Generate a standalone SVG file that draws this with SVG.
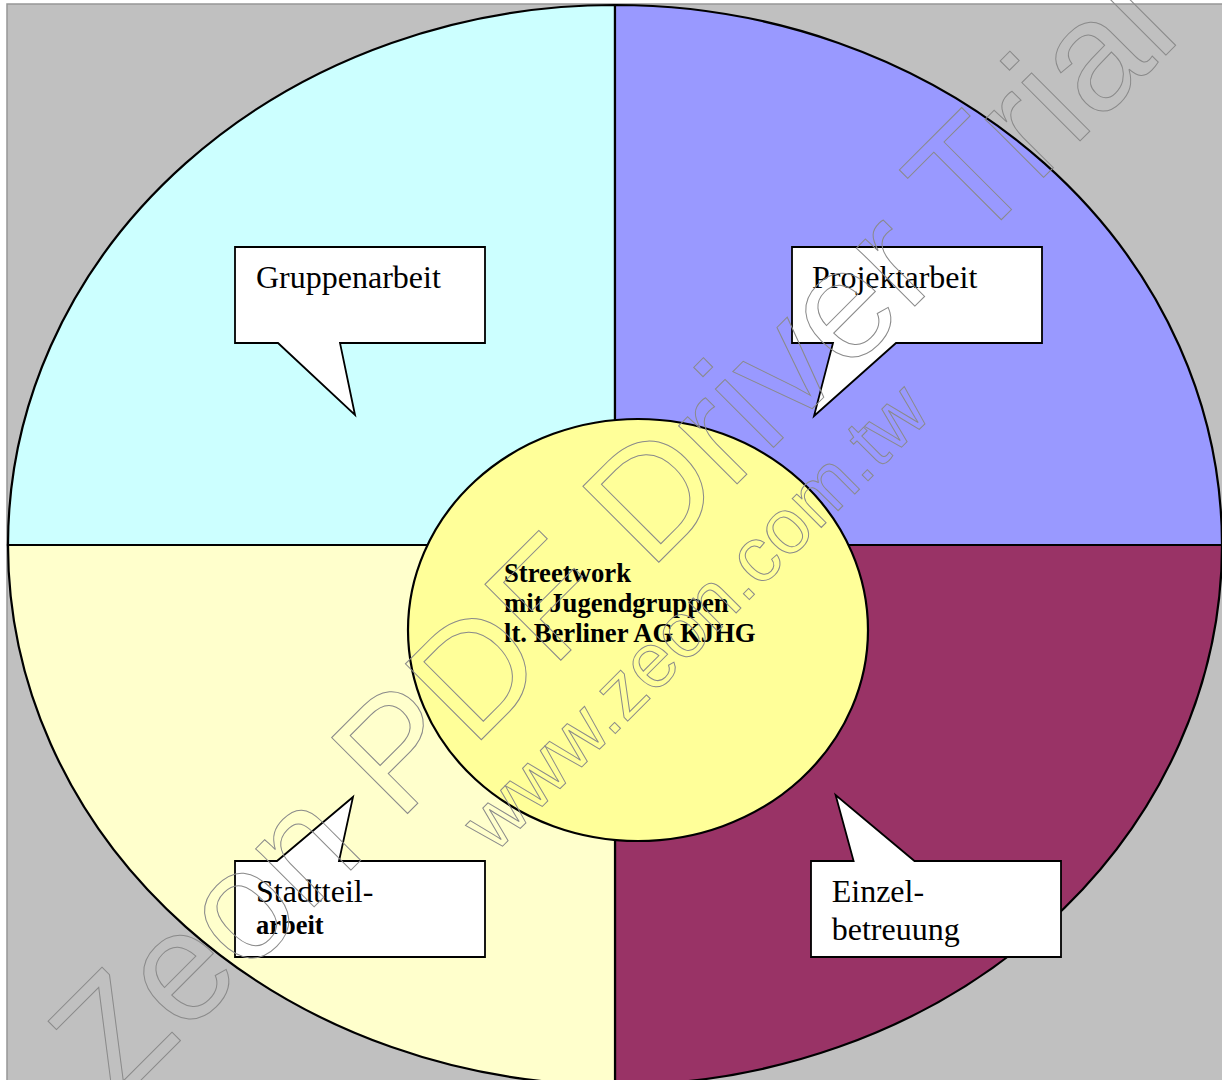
<svg xmlns="http://www.w3.org/2000/svg" width="1222" height="1080" viewBox="0 0 1222 1080">
<style>
.q{stroke:#000;stroke-width:2.2}
.co{fill:#fff;stroke:#000;stroke-width:1.8;stroke-linejoin:miter}
.lbl{font-family:"Liberation Serif","Times New Roman",serif;font-size:32px;fill:#000}
.ctr{font-family:"Liberation Serif","Times New Roman",serif;font-size:26.7px;font-weight:bold;fill:#000}
.wm{font-family:"Liberation Sans",Arial,sans-serif;fill:none;stroke:#8a8a8a;stroke-width:1}
</style>
<rect x="0" y="0" width="1222" height="1080" fill="#fff"/>
<rect x="7" y="4" width="1222" height="1090" fill="#C0C0C0" stroke="#969696" stroke-width="1.5"/>
<g id="wheel">
<path class="q" fill="#CCFFFF" d="M615,545 L8,545 A607,540 0 0 1 615,5 Z"/>
<path class="q" fill="#9999FF" d="M615,545 L615,5 A607,540 0 0 1 1222,545 Z"/>
<path class="q" fill="#993366" d="M615,545 L1222,545 A607,540 0 0 1 615,1085 Z"/>
<path class="q" fill="#FFFFCC" d="M615,545 L615,1085 A607,540 0 0 1 8,545 Z"/>
</g>
<g id="center">
<ellipse class="q" cx="638" cy="630" rx="230" ry="211" fill="#FFFF99"/>
<text class="ctr" x="504" y="581.7">Streetwork</text>
<text class="ctr" x="504" y="611.7">mit Jugendgruppen</text>
<text class="ctr" x="504" y="641.7">lt. Berliner AG KJHG</text>
</g>
<g id="gruppenarbeit">
<path class="co" d="M235,247 H485 V343 H340 L355,415 L278,343 H235 Z"/>
<text class="lbl" x="256" y="287.5">Gruppenarbeit</text>
</g>
<g id="projektarbeit">
<path class="co" d="M792,247 H1042 V343 H896 L814,416 L833,343 H792 Z"/>
<text class="lbl" x="812" y="287.5">Projektarbeit</text>
</g>
<g id="stadtteilarbeit">
<path class="co" d="M235,861 H277 L353,797 L339,861 H485 V957 H235 Z"/>
<text class="lbl" x="256" y="901.6">Stadtteil-</text>
<text class="lbl" x="256" y="934" style="font-size:26.5px;font-weight:bold">arbeit</text>
</g>
<g id="einzelbetreuung">
<path class="co" d="M811,861 H853.6 L835.6,795 L914.5,861 H1061 V957 H811 Z"/>
<text class="lbl" x="831.7" y="901.6">Einzel-</text>
<text class="lbl" x="831.7" y="939.5">betreuung</text>
</g>
<g id="watermark">
<text class="wm" font-size="156" transform="translate(116.5,1104.5) rotate(-45)">Zeon PDF Driver Trial</text>
<text class="wm" font-size="77.5" transform="translate(494.6,854.2) rotate(-45)">www.zeon.com.tw</text>
</g>
</svg>
